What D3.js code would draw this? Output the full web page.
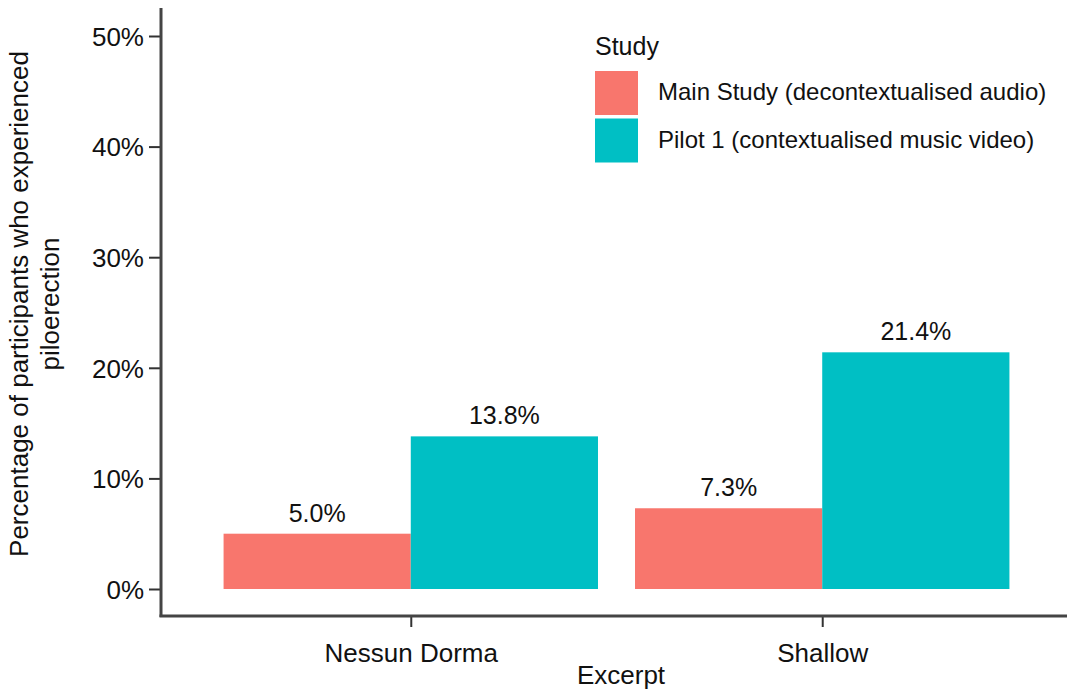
<!DOCTYPE html>
<html><head><meta charset="utf-8">
<script src="https://cdn.jsdelivr.net/npm/d3@7"></script>
<style>body{margin:0;background:#fff}svg{display:block;font-family:"Liberation Sans",Arial,sans-serif}</style>
</head><body><svg id="c" width="1067" height="690"></svg>
<script>
const excerpts = ["Nessun Dorma", "Shallow"];
const studies = ["Main Study (decontextualised audio)", "Pilot 1 (contextualised music video)"];
const mainStudy = [5.0, 7.3];
const pilot1 = [13.8, 21.4];
const yTicks = [0, 10, 20, 30, 40, 50];
const colors = ["#F8766D", "#00BFC4"];

const svg = d3.select("#c");
const axisX = 161, axisY = 616;
const y = d3.scaleLinear().domain([0, 50]).range([589, 36]);
const x = d3.scaleBand().domain(excerpts).range([203, 1030]).paddingInner(0.09).paddingOuter(0.05);
const xs = d3.scaleBand().domain(studies).range([0, x.bandwidth()]);

const data = excerpts.map((e, i) => ({excerpt: e, values: [mainStudy[i], pilot1[i]]}));

const g = svg.append("g");
data.forEach(d => {
  d.values.forEach((v, j) => {
    const bx = x(d.excerpt) + xs(studies[j]);
    g.append("rect").attr("x", bx).attr("y", y(v)).attr("width", xs.bandwidth()).attr("height", y(0) - y(v)).attr("fill", colors[j]);
    g.append("text").attr("x", bx + xs.bandwidth() / 2).attr("y", y(v) - 12)
      .attr("text-anchor", "middle").attr("font-size", 25).attr("fill", "#111").text(v.toFixed(1) + "%");
  });
});

// y axis
const ya = svg.append("g").attr("transform", `translate(${axisX},0)`)
  .call(d3.axisLeft(y).tickValues(yTicks).tickFormat(d => d + "%").tickSize(12).tickPadding(5));
ya.select(".domain").remove();
ya.selectAll(".tick line").attr("stroke", "#333").attr("stroke-width", 2);
ya.selectAll(".tick text").attr("font-size", 26).attr("dy", "0.36em").attr("fill", "#111").attr("font-family", "Liberation Sans, Arial, sans-serif");
svg.append("line").attr("x1", axisX).attr("x2", axisX).attr("y1", 8).attr("y2", axisY + 1).attr("stroke", "#444").attr("stroke-width", 3);

// x axis
const xc = d3.scalePoint().domain(excerpts).range([x("Nessun Dorma") + x.bandwidth()/2, x("Shallow") + x.bandwidth()/2]);
const xa = svg.append("g").attr("transform", `translate(0,${axisY})`)
  .call(d3.axisBottom(xc).tickSize(11).tickPadding(12));
xa.select(".domain").remove();
xa.selectAll(".tick line").attr("stroke", "#333").attr("stroke-width", 2);
xa.selectAll(".tick text").attr("font-size", 26).attr("dy", null).attr("y", 46).attr("fill", "#111").attr("font-family", "Liberation Sans, Arial, sans-serif");
svg.append("line").attr("x1", axisX - 1.5).attr("x2", 1067).attr("y1", axisY).attr("y2", axisY).attr("stroke", "#444").attr("stroke-width", 3);

// titles
svg.append("text").attr("x", 621).attr("y", 684).attr("text-anchor", "middle").attr("font-size", 26).attr("fill", "#111").text("Excerpt");
const yt = svg.append("text").attr("transform", "translate(0,304) rotate(-90)").attr("text-anchor", "middle").attr("font-size", 26).attr("fill", "#111");
yt.append("tspan").attr("x", 0).attr("y", 28).text("Percentage of participants who experienced");
yt.append("tspan").attr("x", 0).attr("y", 59).text("piloerection");

// legend
const lg = svg.append("g");
lg.append("text").attr("x", 595).attr("y", 55).attr("font-size", 25).attr("fill", "#111").text("Study");
studies.forEach((s, i) => {
  lg.append("rect").attr("x", 595).attr("y", 71 + i * 47.5).attr("width", 43).attr("height", 44).attr("fill", colors[i]);
  lg.append("text").attr("x", 658).attr("y", 100 + i * 47.5).attr("font-size", 24).attr("fill", "#111").text(s);
});
</script></body></html>
